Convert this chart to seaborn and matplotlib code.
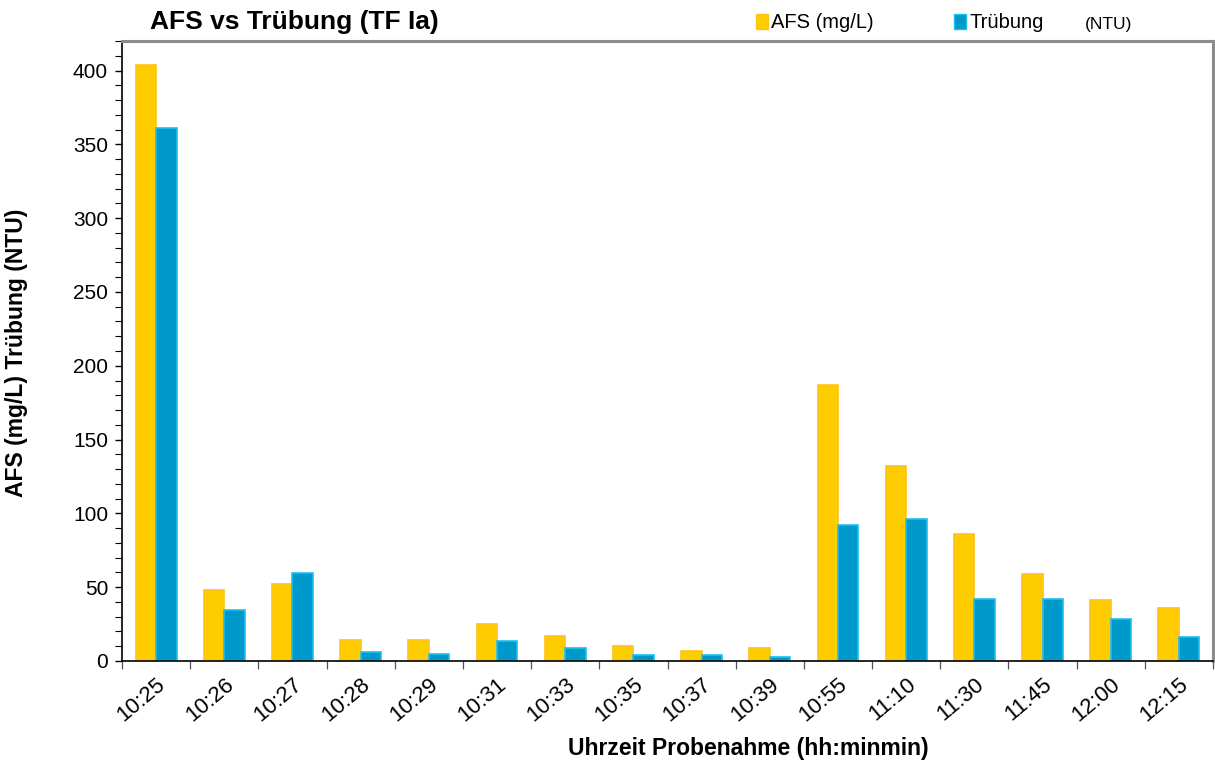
import matplotlib
matplotlib.use("Agg")
import matplotlib.pyplot as plt
import seaborn as sns
import pandas as pd
import numpy as np
from matplotlib.ticker import MultipleLocator, FixedLocator
from matplotlib.patches import Patch

sns.set_theme(style="white")
plt.rcParams['font.family'] = ['Liberation Sans', 'DejaVu Sans']
plt.rcParams['text.color'] = 'black'
plt.rcParams['axes.labelcolor'] = 'black'
plt.rcParams['xtick.color'] = 'black'
plt.rcParams['ytick.color'] = 'black'

times = ["10:25", "10:26", "10:27", "10:28", "10:29", "10:31", "10:33", "10:35",
         "10:37", "10:39", "10:55", "11:10", "11:30", "11:45", "12:00", "12:15"]
afs = [404, 48, 52, 14, 14, 25, 17, 10, 6.8, 9, 187, 132, 86, 59, 41, 36]
truebung = [361, 34.6, 59.7, 6, 5, 13.5, 8.8, 4, 4, 3, 92, 96, 42, 42, 28.5, 16]
series_names = ["AFS (mg/L)", "Trübung"]

df = pd.DataFrame({
    "Zeit": times * 2,
    "Wert": afs + truebung,
    "Reihe": [series_names[0]] * len(times) + [series_names[1]] * len(times),
})

fill_colors = {"AFS (mg/L)": "#FFCC00", "Trübung": "#0099CC"}
edge_colors = {"AFS (mg/L)": "#FFC21A", "Trübung": "#1EC0F0"}

fig = plt.figure(figsize=(12.15, 7.63), dpi=100)
ax = fig.add_axes([122 / 1215, 1 - 661 / 763, 1091 / 1215, 620 / 763])

sns.barplot(data=df, x="Zeit", y="Wert", hue="Reihe", order=times,
            hue_order=series_names, palette=fill_colors, width=0.6,
            saturation=1, gap=0, legend=False, ax=ax)

for container, name in zip(ax.containers, series_names):
    for bar in container:
        bar.set_edgecolor(edge_colors[name])
        bar.set_linewidth(1.2)

ax.set_xlim(-0.5, len(times) - 0.5)
ax.set_ylim(0, 420)

# y axis: labelled every 50, small outer ticks every 10
ax.yaxis.set_major_locator(MultipleLocator(50))
ax.yaxis.set_minor_locator(MultipleLocator(10))
ax.tick_params(axis="y", which="major", direction="out", length=5, width=1,
               color="black", labelsize=15, pad=5, left=True)
ax.tick_params(axis="y", which="minor", direction="out", length=5, width=0.8,
               color="black", left=True)

# x axis: tick marks on group boundaries, labels at group centers
ax.xaxis.set_minor_locator(FixedLocator(np.arange(-0.5, len(times), 1.0)))
ax.tick_params(axis="x", which="minor", direction="out", length=6, width=0.9,
               color="#555555", bottom=True)
ax.tick_params(axis="x", which="major", length=0, labelsize=16, pad=9)
ax.set_xticks(range(len(times)))
ax.set_xticklabels(times, rotation=40, ha="right", rotation_mode="anchor")

for side in ["left", "bottom"]:
    ax.spines[side].set_color("black")
    ax.spines[side].set_linewidth(1.2)
for side in ["top", "right"]:
    ax.spines[side].set_color("#8C8C8C")
    ax.spines[side].set_linewidth(2.2)

ax.set_xlabel("Uhrzeit Probenahme (hh:minmin)", fontsize=16.5, fontweight="bold")
ax.xaxis.set_label_coords((748 - 122) / 1091, -0.122)
ax.set_ylabel("AFS (mg/L) Trübung (NTU)", fontsize=16.5, fontweight="bold")
ax.yaxis.set_label_coords((28 - 122) / 1091, 0.497)

fig.text(150 / 1215, 1 - 22 / 763, "AFS vs Trübung (TF Ia)", fontsize=19,
         fontweight="bold", ha="left", va="center")

handles = [Patch(facecolor=fill_colors[n], edgecolor=edge_colors[n]) for n in series_names]
fig.legend(handles, series_names, loc="center left",
           bbox_to_anchor=(748 / 1215, 1 - 23 / 763), ncol=2, frameon=False,
           fontsize=14.5, handlelength=0.6, handleheight=0.8, handletextpad=0.15,
           columnspacing=4.0, borderaxespad=0)
fig.text(1085 / 1215, 1 - 25 / 763, "(NTU)", fontsize=12.5, ha="left", va="center")

fig.savefig("out.png", dpi=100)
